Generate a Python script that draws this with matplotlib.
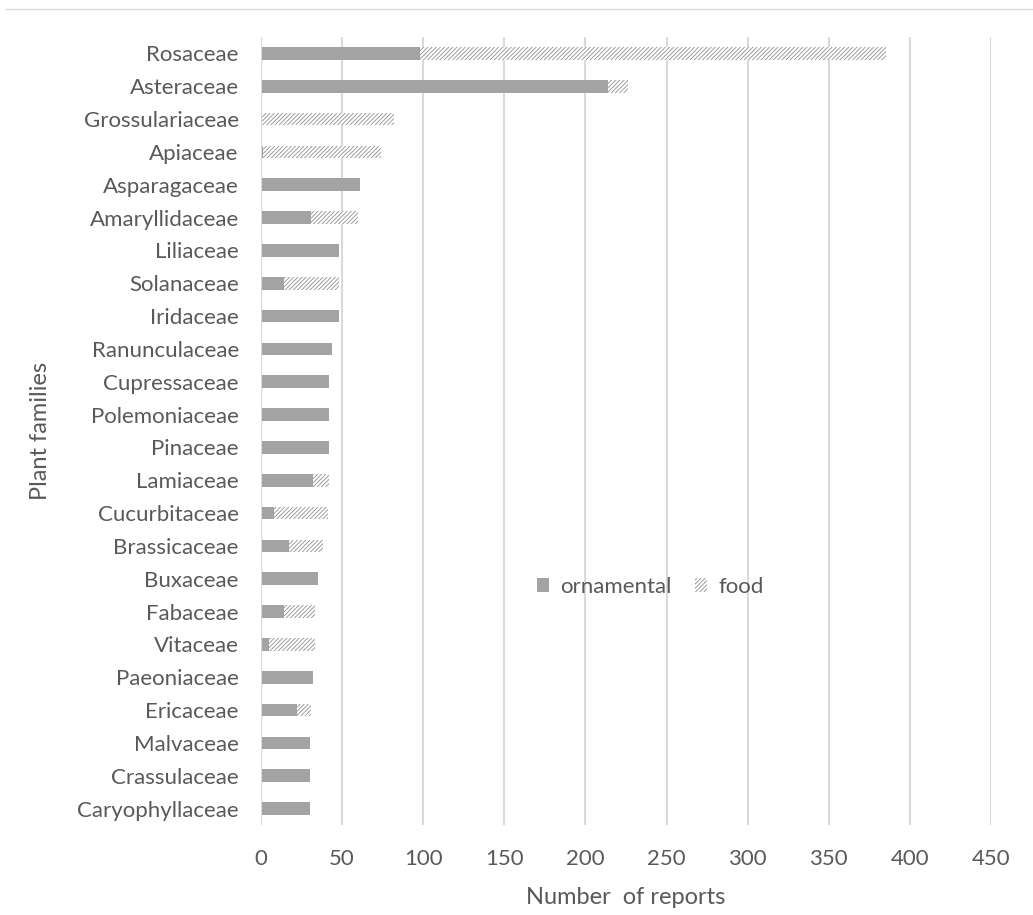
import matplotlib
matplotlib.use("Agg")
import matplotlib.pyplot as plt
import numpy as np
from matplotlib.lines import Line2D

families = ["Rosaceae", "Asteraceae", "Grossulariaceae", "Apiaceae", "Asparagaceae",
            "Amaryllidaceae", "Liliaceae", "Solanaceae", "Iridaceae", "Ranunculaceae",
            "Cupressaceae", "Polemoniaceae", "Pinaceae", "Lamiaceae", "Cucurbitaceae",
            "Brassicaceae", "Buxaceae", "Fabaceae", "Vitaceae", "Paeoniaceae",
            "Ericaceae", "Malvaceae", "Crassulaceae", "Caryophyllaceae"]
ornamental = [98, 214, 0, 1, 61, 31, 48, 14, 48, 44, 42, 42, 42, 32, 8, 17, 35, 14, 5, 32, 22, 30, 30, 30]
food = [287, 12, 82, 73, 0, 29, 0, 34, 0, 0, 0, 0, 0, 10, 33, 21, 0, 19, 28, 0, 9, 0, 0, 0]
xticks = [0, 50, 100, 150, 200, 250, 300, 350, 400, 450]

plt.rcParams['font.family'] = ['Lato', 'DejaVu Sans']
plt.rcParams['hatch.linewidth'] = 0.6
text_color = '#595959'

fig = plt.figure(figsize=(10.33, 9.15), dpi=100)
ax = fig.add_axes([261/1033, 1-825/915, (991-261)/1033, (825-37)/915])

y = np.arange(len(families))
h = 0.39
ax.barh(y, ornamental, height=h, color='#a3a3a3', linewidth=0, label='ornamental', zorder=3)
ax.barh(y, food, left=ornamental, height=h, color='white', edgecolor='#8f8f8f',
        hatch='////////', linewidth=0, label='food', zorder=3)

ax.set_ylim(len(families)-0.5, -0.5)
ax.set_xlim(0, 450)
ax.set_yticks(y)
ax.set_yticklabels(families)
ax.set_xticks(xticks)
ax.tick_params(axis='both', length=0, labelsize=16, colors=text_color)
ax.tick_params(axis='y', pad=16)
ax.tick_params(axis='x', pad=17)
for s in ax.spines.values():
    s.set_visible(False)
ax.xaxis.grid(True, color='#d9d9d9', linewidth=1.5, zorder=0)
ax.axvline(0, color='#d9d9d9', linewidth=1.5, zorder=4)
ax.set_axisbelow(True)

ax.set_xlabel('Number  of reports', fontsize=17, color=text_color, labelpad=13)
ax.set_ylabel('Plant families', fontsize=17, color=text_color, labelpad=19)

leg = ax.legend(loc='center', bbox_to_anchor=((650-261)/730, (825-587)/788), ncol=2,
                frameon=False, fontsize=16, handlelength=0.55, handleheight=0.55,
                columnspacing=1.05, handletextpad=0.5)
for t in leg.get_texts():
    t.set_color(text_color)

fig.add_artist(Line2D([6/1033, 1], [1-9/915, 1-9/915], color='#d9d9d9', linewidth=1,
                      transform=fig.transFigure))

fig.savefig('out.png', dpi=100)
